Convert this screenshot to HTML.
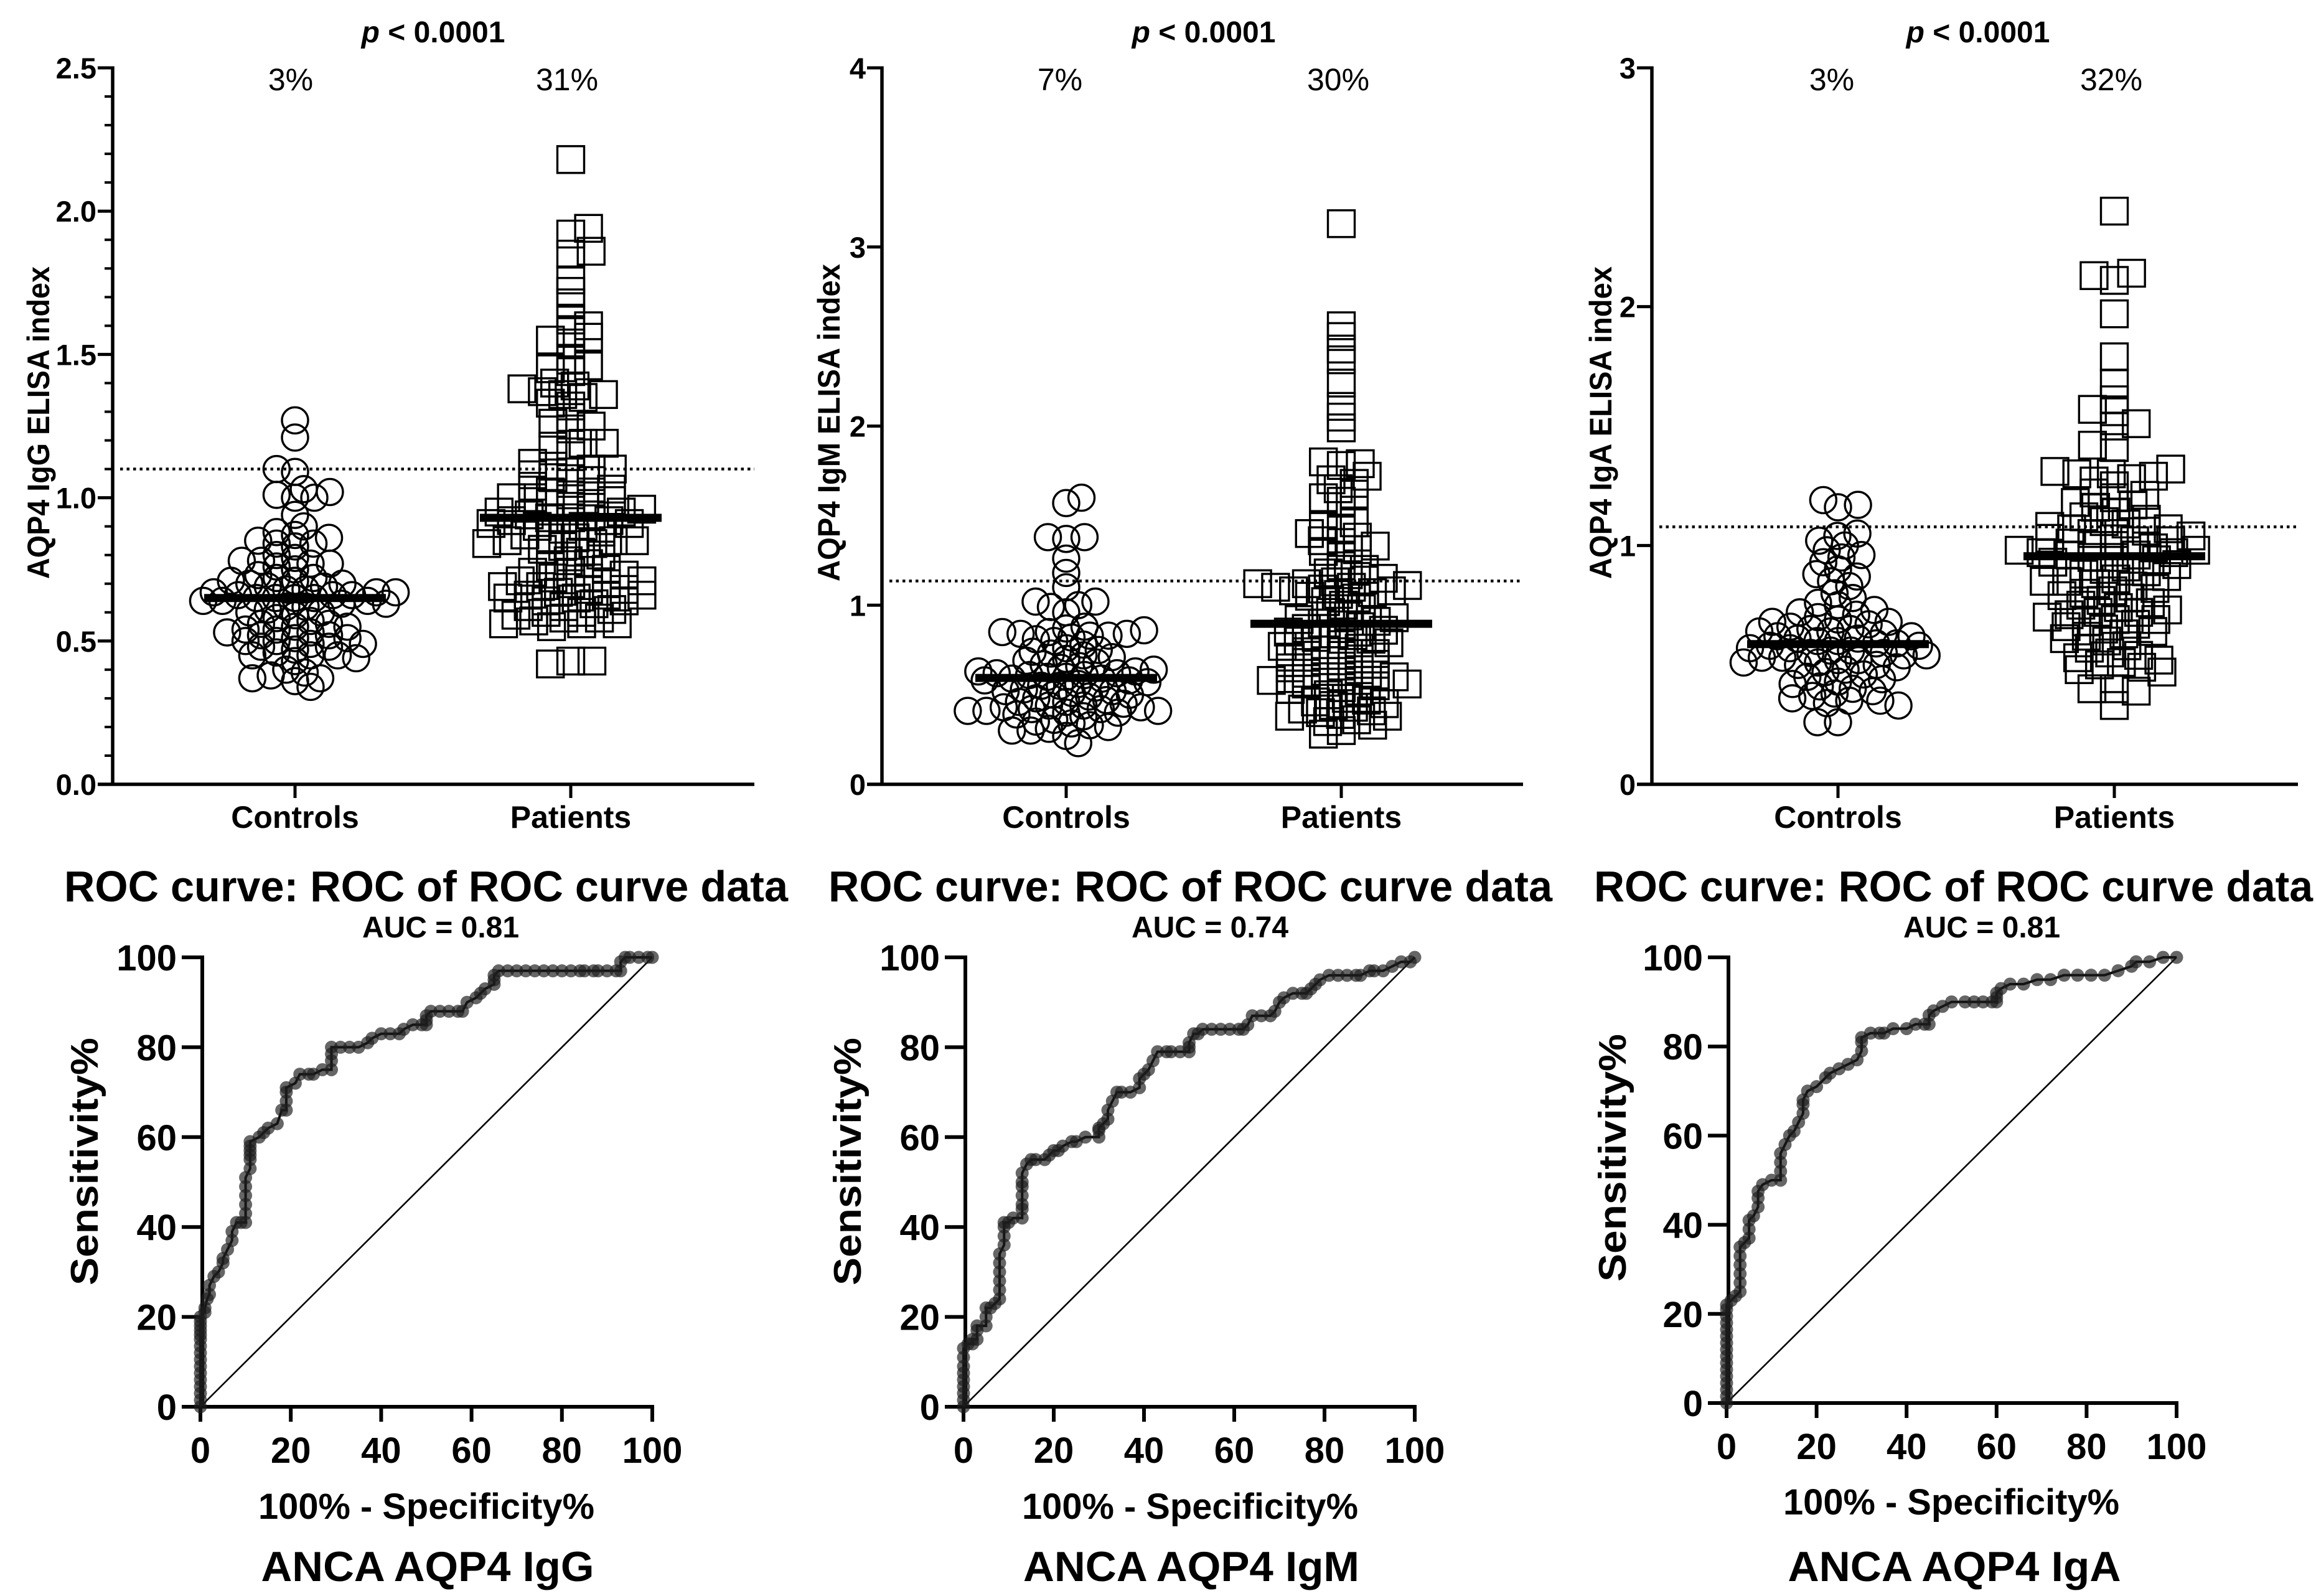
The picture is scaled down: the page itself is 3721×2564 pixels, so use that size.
<!DOCTYPE html>
<html lang="en">
<head>
<meta charset="utf-8">
<title>AQP4 ELISA index and ROC curves</title>
<style>
html,body{margin:0;padding:0;background:#fff;width:3721px;height:2564px;overflow:hidden}
svg{display:block}
text{font-family:"Liberation Sans",sans-serif;fill:#000}
.b{font-weight:bold}
</style>
</head>
<body>
<svg id="chart" xmlns="http://www.w3.org/2000/svg" width="3721" height="2564" viewBox="0 0 3721 2564">
  <rect x="0" y="0" width="3721" height="2564" fill="#fff"/>

  <text class="b" x="696" y="68" font-size="48" text-anchor="middle"><tspan font-style="italic">p</tspan> &lt; 0.0001</text>
  <text class="b" x="1934" y="68" font-size="48" text-anchor="middle"><tspan font-style="italic">p</tspan> &lt; 0.0001</text>
  <text class="b" x="3178" y="68" font-size="48" text-anchor="middle"><tspan font-style="italic">p</tspan> &lt; 0.0001</text>

  <text x="467" y="145" font-size="50" text-anchor="middle">3%</text>
  <text x="911" y="145" font-size="50" text-anchor="middle">31%</text>
  <text x="1703" y="145" font-size="50" text-anchor="middle">7%</text>
  <text x="2150" y="145" font-size="50" text-anchor="middle">30%</text>
  <text x="2943" y="145" font-size="50" text-anchor="middle">3%</text>
  <text x="3392" y="145" font-size="50" text-anchor="middle">32%</text>

  <text class="b" transform="translate(79,679) rotate(-90)" font-size="50" text-anchor="middle" textLength="502" lengthAdjust="spacingAndGlyphs">AQP4 IgG ELISA index</text>
  <text class="b" transform="translate(1349,679) rotate(-90)" font-size="50" text-anchor="middle" textLength="510" lengthAdjust="spacingAndGlyphs">AQP4 IgM ELISA index</text>
  <text class="b" transform="translate(2589,679) rotate(-90)" font-size="50" text-anchor="middle" textLength="502" lengthAdjust="spacingAndGlyphs">AQP4 IgA ELISA index</text>

  <text class="b" x="103" y="1448" font-size="70" textLength="1163" lengthAdjust="spacingAndGlyphs">ROC curve: ROC of ROC curve data</text>
  <text class="b" x="1331" y="1448" font-size="70" textLength="1163" lengthAdjust="spacingAndGlyphs">ROC curve: ROC of ROC curve data</text>
  <text class="b" x="2561" y="1448" font-size="70" textLength="1155" lengthAdjust="spacingAndGlyphs">ROC curve: ROC of ROC curve data</text>

  <text class="b" x="708" y="1506" font-size="48" text-anchor="middle">AUC = 0.81</text>
  <text class="b" x="1944" y="1506" font-size="48" text-anchor="middle">AUC = 0.74</text>
  <text class="b" x="3184" y="1506" font-size="48" text-anchor="middle">AUC = 0.81</text>

  <text class="b" transform="translate(157,1866) rotate(-90)" font-size="62" text-anchor="middle" textLength="398" lengthAdjust="spacingAndGlyphs">Sensitivity%</text>
  <text class="b" transform="translate(1383,1866) rotate(-90)" font-size="62" text-anchor="middle" textLength="398" lengthAdjust="spacingAndGlyphs">Sensitivity%</text>
  <text class="b" transform="translate(2612,1860) rotate(-90)" font-size="62" text-anchor="middle" textLength="398" lengthAdjust="spacingAndGlyphs">Sensitivity%</text>

  <text class="b" x="685" y="2440" font-size="58" text-anchor="middle" textLength="540" lengthAdjust="spacingAndGlyphs">100% - Specificity%</text>
  <text class="b" x="1912" y="2440" font-size="58" text-anchor="middle" textLength="540" lengthAdjust="spacingAndGlyphs">100% - Specificity%</text>
  <text class="b" x="3135" y="2433" font-size="58" text-anchor="middle" textLength="540" lengthAdjust="spacingAndGlyphs">100% - Specificity%</text>

  <text class="b" x="687" y="2540" font-size="68" text-anchor="middle" textLength="535" lengthAdjust="spacingAndGlyphs">ANCA AQP4 IgG</text>
  <text class="b" x="1914" y="2540" font-size="68" text-anchor="middle" textLength="540" lengthAdjust="spacingAndGlyphs">ANCA AQP4 IgM</text>
  <text class="b" x="3140" y="2540" font-size="68" text-anchor="middle" textLength="535" lengthAdjust="spacingAndGlyphs">ANCA AQP4 IgA</text>

  <g id="plots"></g>
</svg>
<script>
// ---------- Data ----------
const groupLabels = ['Controls', 'Patients'];

const controlsIgG = [1.27,1.21,1.10,1.09,1.03,1.02,1.01,1.00,1.00,0.94,0.90,0.88,0.87,0.86,0.85,0.84,0.84,0.83,0.80,0.79,0.78,0.78,0.77,0.77,0.76,0.75,0.73,0.72,0.72,0.71,0.71,0.70,0.70,0.69,0.69,0.68,0.68,0.67,0.67,0.67,0.66,0.66,0.66,0.65,0.65,0.65,0.65,0.64,0.64,0.64,0.63,0.63,0.62,0.62,0.61,0.60,0.60,0.59,0.58,0.57,0.56,0.56,0.55,0.55,0.54,0.54,0.53,0.53,0.52,0.52,0.51,0.51,0.50,0.50,0.49,0.49,0.48,0.48,0.47,0.46,0.45,0.45,0.45,0.44,0.43,0.40,0.39,0.38,0.37,0.37,0.36,0.34];
const patientsIgG = [2.18,1.94,1.92,1.86,1.85,1.76,1.72,1.68,1.62,1.60,1.58,1.56,1.55,1.54,1.48,1.46,1.45,1.44,1.40,1.39,1.38,1.37,1.36,1.36,1.35,1.33,1.32,1.28,1.26,1.25,1.24,1.19,1.19,1.18,1.16,1.12,1.11,1.10,1.10,1.09,1.08,1.07,1.06,1.05,1.04,1.03,1.02,1.02,1.01,1.00,1.00,0.99,0.98,0.98,0.97,0.96,0.95,0.95,0.94,0.94,0.93,0.93,0.92,0.92,0.91,0.91,0.90,0.90,0.89,0.88,0.87,0.86,0.86,0.85,0.85,0.85,0.84,0.84,0.83,0.82,0.81,0.80,0.78,0.77,0.76,0.75,0.74,0.74,0.73,0.72,0.72,0.71,0.71,0.70,0.70,0.69,0.69,0.68,0.68,0.67,0.66,0.66,0.66,0.65,0.65,0.64,0.64,0.63,0.62,0.62,0.61,0.60,0.60,0.59,0.58,0.58,0.57,0.56,0.56,0.56,0.55,0.43,0.43,0.42];
const controlsIgM = [1.60,1.57,1.38,1.38,1.37,1.26,1.18,1.10,1.02,1.02,1.00,0.99,0.96,0.88,0.87,0.86,0.85,0.85,0.84,0.84,0.83,0.83,0.82,0.81,0.80,0.78,0.76,0.75,0.74,0.73,0.72,0.71,0.70,0.69,0.68,0.67,0.66,0.65,0.64,0.63,0.63,0.62,0.62,0.61,0.61,0.60,0.60,0.59,0.59,0.58,0.58,0.57,0.56,0.55,0.55,0.54,0.53,0.52,0.52,0.51,0.50,0.50,0.49,0.48,0.47,0.46,0.46,0.45,0.44,0.44,0.43,0.43,0.42,0.42,0.41,0.41,0.41,0.40,0.40,0.39,0.38,0.36,0.35,0.34,0.33,0.32,0.31,0.30,0.30,0.27,0.23];
const patientsIgM = [3.13,2.56,2.50,2.43,2.37,2.24,2.11,2.05,1.99,1.80,1.79,1.78,1.72,1.70,1.68,1.65,1.62,1.60,1.58,1.46,1.44,1.42,1.40,1.38,1.36,1.35,1.33,1.31,1.30,1.28,1.22,1.20,1.18,1.17,1.15,1.14,1.13,1.12,1.12,1.11,1.10,1.10,1.09,1.08,1.08,1.07,1.06,1.05,1.04,1.02,1.00,0.98,0.96,0.94,0.93,0.92,0.91,0.90,0.89,0.88,0.87,0.86,0.85,0.84,0.83,0.82,0.81,0.80,0.79,0.78,0.77,0.76,0.75,0.74,0.73,0.72,0.71,0.70,0.69,0.68,0.67,0.66,0.65,0.64,0.63,0.62,0.61,0.60,0.60,0.59,0.58,0.58,0.57,0.56,0.56,0.55,0.54,0.53,0.52,0.50,0.48,0.47,0.46,0.45,0.44,0.43,0.42,0.41,0.40,0.39,0.38,0.38,0.36,0.35,0.33,0.30,0.28];
const controlsIgA = [1.19,1.17,1.16,1.05,1.04,1.02,1.00,0.98,0.96,0.95,0.93,0.90,0.88,0.87,0.85,0.83,0.80,0.78,0.76,0.75,0.73,0.72,0.71,0.70,0.69,0.68,0.68,0.67,0.66,0.65,0.65,0.64,0.64,0.63,0.62,0.62,0.61,0.61,0.60,0.60,0.59,0.59,0.58,0.58,0.57,0.57,0.56,0.56,0.55,0.55,0.54,0.54,0.53,0.53,0.52,0.52,0.51,0.51,0.50,0.50,0.49,0.48,0.47,0.46,0.45,0.44,0.43,0.42,0.41,0.40,0.39,0.38,0.37,0.36,0.35,0.35,0.34,0.33,0.26,0.26];
const patientsIgA = [2.40,2.14,2.13,2.11,1.97,1.79,1.68,1.61,1.57,1.56,1.51,1.50,1.42,1.41,1.32,1.31,1.30,1.30,1.29,1.28,1.27,1.25,1.22,1.21,1.20,1.18,1.17,1.16,1.14,1.12,1.11,1.10,1.09,1.08,1.07,1.07,1.06,1.05,1.05,1.04,1.03,1.02,1.02,1.01,1.00,1.00,0.99,0.98,0.98,0.97,0.97,0.96,0.96,0.95,0.95,0.94,0.93,0.92,0.91,0.90,0.89,0.88,0.87,0.86,0.85,0.85,0.84,0.83,0.82,0.81,0.80,0.79,0.78,0.77,0.76,0.75,0.74,0.73,0.72,0.72,0.71,0.70,0.69,0.69,0.68,0.67,0.66,0.65,0.64,0.63,0.62,0.61,0.60,0.58,0.57,0.55,0.54,0.53,0.52,0.51,0.50,0.49,0.48,0.47,0.40,0.40,0.39,0.33];

const medianIgG = [0.65, 0.93];
const medianIgM = [0.594, 0.896];
const medianIgA = [0.587, 0.955];
const cutoffIgG = 1.10;
const cutoffIgM = 1.135;
const cutoffIgA = 1.078;

const ticksIgG = ['0.0', '0.5', '1.0', '1.5', '2.0', '2.5'];
const ticksIgM = ['0', '1', '2', '3', '4'];
const ticksIgA = ['0', '1', '2', '3'];
const rocTicks = [0, 20, 40, 60, 80, 100];

const rocFprIgG = [0,0,0,0,0,0,0,0,0,0,0,0,0,0,0,0,1,1,1.5,2,2,3,4,5,5,6,7,7,8,9,10,10,10,10,10,10,11,11,11,11,11,11,13,14,15,17,18,19,19,19,19,21,22,24,25,27,29,29,29,29,31,33,35,37,38,40,42,44,45,47,49,50,50,50,51,53,55,57,58,59,61,62,63,65,65,65,66,68,70,72,74,76,78,80,82,84,85,87,88,90,92,93,93,94,95,97,99,100];
const rocTprIgG = [0,1.5,3,4.5,6,7.5,9,10.5,12,13.5,15,16,17,18,19,20,21,22,24,25,27,29,30,32,33,35,37,39,41,41,41,43,45,47,49,51,53,55,56,57,58,59,60,61,62,63,66,66,68,70,71,72,74,74,74,75,75,77,78.5,80,80,80,80,81,82,83,83,83,84,85,85,85,86,87,88,88,88,88,88,90,91,92,93,94,95,96,97,97,97,97,97,97,97,97,97,97,97,97,97,97,97,97,99,100,100,100,100,100];

const rocFprIgM = [0,0,0,0,0,0,0,0,0,1,2,2,3,3,3,5,5,5,6,7,8,8,8,8,8,8,9,9,9,9,10,11,13,13,13,13,13,13,13,14,15,16,18,19,20,21,22,24,25,27,30,30,30,31,32,32,33,34,35,37,39,39,40,41,42,43,45,46,48,50,50,50,51,52,53,55,57,59,61,62,63,64,66,68,69,70,71,73,75,76,77,78,79,81,83,85,87,88,90,91,93,95,97,99,100];
const rocTprIgM = [0,1.5,3,4.5,6,7.5,9,11,13,14,14,15,15,17,18,18,20,22,22,23,24,26,28,30,32,34,36,38,40,41,41,42,42,44,45,47,49,50,52,54,55,55,55,56,57,57,58,59,59,60,60,61.5,62,63,64,66,68,70,70,70,71,73,74,75,77,79,79,79,79,79,80,81,83,83,84,84,84,84,84,84,85,87,87,87,88,90,91,92,92,92,93,94,95,96,96,96,96,96,97,97,97,98,99,99,100];

const rocFprIgA = [0,0,0,0,0,0,0,0,0,0,0,0,0,0,0,0,1,2,3,3,3,3,3,3,4,5,5,5,6,7,7,7,8,10,12,12,12,12,13,14,15,16,17,17,17,18,20,22,23,25,27,29,30,30,30,32,34,35,37,40,42,44,45,45,46,48,50,53,55,57,59,60,60,60,61,63,66,69,72,75,78,81,84,87,90,91,94,97,100];
const rocTprIgA = [0,1.5,3,4.5,6,7.5,9,10.5,12,13.5,15,16.5,18,19.5,21,22,23,24,25,27,29,31,33,35,36,37,39,41,42,44,46,47.5,49,50,50,52,54,56,58,60,61,63,65,67,68,70,71,73,74,75,76,77,79,81,82,83,83,83,84,84,85,85,85,87,88,89,90,90,90,90,90,90,91,92,93,94,94,95,95,96,96,96,96,97,98,99,99,100,100];

// ---------- Helpers ----------
const NS = 'http://www.w3.org/2000/svg';
const root = document.getElementById('plots');

function make(tag, attrs, parent) {
  const node = document.createElementNS(NS, tag);
  for (const k in attrs) node.setAttribute(k, attrs[k]);
  parent.appendChild(node);
  return node;
}

function scaleLinear(d0, d1, r0, r1) {
  return function (v) { return r0 + (v - d0) * (r1 - r0) / (d1 - d0); };
}

// Greedy beeswarm: offsets derive only from values and the y scale. Vertical
// distance counts double, so neighbours stack more tightly than they sit side by side.
function swarm(values, yScale, minDist) {
  const K = 2;
  const sorted = values.slice().sort(function (a, b) { return a - b; });
  const med = sorted[Math.floor(sorted.length / 2)];
  const order = values.map(function (v, i) { return i; }).sort(function (a, b) {
    return Math.abs(values[a] - med) - Math.abs(values[b] - med);
  });
  const placed = [];
  const out = new Array(values.length);
  order.forEach(function (idx, n) {
    const y = yScale(values[idx]);
    const cands = [0];
    placed.forEach(function (p) {
      const dy = Math.abs(p.y - y) * K;
      if (dy < minDist) {
        const w = Math.sqrt(minDist * minDist - dy * dy) + 0.01;
        cands.push(p.x + w, p.x - w);
      }
    });
    const valid = cands.filter(function (c) {
      return placed.every(function (p) {
        const dx = p.x - c, dy = (p.y - y) * K;
        return dx * dx + dy * dy >= minDist * minDist - 0.001;
      });
    });
    const pref = n % 2 === 0 ? 1 : -1;
    valid.sort(function (a, b) {
      return (Math.abs(a) - Math.abs(b)) || (b - a) * pref;
    });
    const x = valid[0];
    placed.push({ x: x, y: y });
    out[idx] = x;
  });
  return out;
}

function drawScatter(cfg) {
  const g = make('g', {}, root);
  
  
  const y = scaleLinear(cfg.yMin, cfg.yMax, cfg.y0, cfg.y1);

  const yAxis = make('line', { x1: cfg.x0, x2: cfg.x0, y1: cfg.y1 - 2.5, y2: cfg.y0 + 2.5, stroke: '#000', 'stroke-width': 5.5 }, g);
  
  
  const xAxis = make('line', { x1: cfg.x0 - 24, x2: cfg.x1, y1: cfg.y0, y2: cfg.y0, stroke: '#000', 'stroke-width': 5.5 }, g);
  
  

  cfg.ticks.forEach(function (label) {
    const v = parseFloat(label);
    const mark = make('line', { x1: cfg.x0 - 24, x2: cfg.x0, y1: y(v), y2: y(v), stroke: '#000', 'stroke-width': 5 }, g);
    
    
    const t = make('text', { x: cfg.x0 - 26, y: y(v) + 17, 'font-size': 47, 'font-weight': 'bold', 'text-anchor': 'end' }, g);
    t.textContent = label;
    
    
  });

  if (cfg.minorStep) {
    for (let m = 1; m * cfg.minorStep < cfg.yMax; m++) {
      const mv = m * cfg.minorStep;
      const minor = make('line', { x1: cfg.x0 - 13, x2: cfg.x0, y1: y(mv), y2: y(mv), stroke: '#000', 'stroke-width': 4 }, g);
      
      
    }
  }

  const centers = [cfg.cxControls, cfg.cxPatients];
  groupLabels.forEach(function (label, i) {
    const mark = make('line', { x1: centers[i], x2: centers[i], y1: cfg.y0, y2: cfg.y0 + 22, stroke: '#000', 'stroke-width': 5 }, g);
    
    
    const t = make('text', { x: centers[i], y: cfg.y0 + 70, 'font-size': 50, 'font-weight': 'bold', 'text-anchor': 'middle' }, g);
    t.textContent = label;
    
    
  });

  const cutoff = make('line', { x1: cfg.x0 + 12, x2: cfg.x1, y1: y(cfg.cutoff), y2: y(cfg.cutoff), stroke: '#000', 'stroke-width': 4.5, 'stroke-dasharray': '4.5 6' }, g);
  
  

  const ctrlOff = swarm(cfg.controls, y, cfg.distControls);
  cfg.controls.forEach(function (v, i) {
    const c = make('circle', { cx: cfg.cxControls + ctrlOff[i], cy: y(v), r: 21, fill: 'none', stroke: '#000', 'stroke-width': 3.4 }, g);
    
    
  });

  const patOff = swarm(cfg.patients, y, cfg.distPatients);
  cfg.patients.forEach(function (v, i) {
    const s = make('rect', { x: cfg.cxPatients + patOff[i] - 21.5, y: y(v) - 21.5, width: 43, height: 43, fill: 'none', stroke: '#000', 'stroke-width': 3.4 }, g);
    
    
  });

  cfg.medians.forEach(function (v, i) {
    const m = make('line', { x1: centers[i] - 146, x2: centers[i] + 146, y1: y(v), y2: y(v), stroke: '#000', 'stroke-width': 13 }, g);
    
    
  });
}

function drawRoc(cfg) {
  const g = make('g', {}, root);
  
  
  const x = scaleLinear(0, 100, cfg.x0, cfg.x1);
  const y = scaleLinear(0, 100, cfg.y0, cfg.y1);

  const diag = make('line', { x1: x(0), y1: y(0), x2: x(100), y2: y(100), stroke: '#000', 'stroke-width': 2.6 }, g);
  
  

  const yAxis = make('line', { x1: cfg.x0 + 3, x2: cfg.x0 + 3, y1: cfg.y1 - 3, y2: cfg.y0 + 3, stroke: '#000', 'stroke-width': 6 }, g);
  
  
  const xAxis = make('line', { x1: cfg.x0 - 30, x2: cfg.x1 + 3, y1: cfg.y0, y2: cfg.y0, stroke: '#000', 'stroke-width': 6 }, g);
  
  

  rocTicks.forEach(function (v) {
    const ym = make('line', { x1: cfg.x0 - 30, x2: cfg.x0, y1: y(v), y2: y(v), stroke: '#000', 'stroke-width': 6 }, g);
    
    
    const yt = make('text', { x: cfg.x0 - 38, y: y(v) + 21, 'font-size': 58, 'font-weight': 'bold', 'text-anchor': 'end' }, g);
    yt.textContent = String(v);
    
    
    const xm = make('line', { x1: x(v), x2: x(v), y1: cfg.y0, y2: cfg.y0 + 24, stroke: '#000', 'stroke-width': 6 }, g);
    
    
    const xt = make('text', { x: x(v), y: cfg.y0 + 90, 'font-size': 58, 'font-weight': 'bold', 'text-anchor': 'middle' }, g);
    xt.textContent = String(v);
    
    
  });

  const pts = cfg.fpr.map(function (f, i) { return x(f) + ',' + y(cfg.tpr[i]); }).join(' ');
  const curve = make('polyline', { points: pts, fill: 'none', stroke: '#000', 'stroke-width': 4 }, g);
  
  

  cfg.fpr.forEach(function (f, i) {
    const p = make('circle', { cx: x(f), cy: y(cfg.tpr[i]), r: 10.5, fill: 'rgba(30,30,30,0.68)', stroke: 'none' }, g);
    
    
  });
}

// ---------- Draw ----------
drawScatter({ name: 'scatter-igg', x0: 181, x1: 1212, y0: 1260, y1: 109, yMin: 0, yMax: 2.5, minorStep: 0.1, ticks: ticksIgG, cxControls: 474, cxPatients: 917, controls: controlsIgG, patients: patientsIgG, medians: medianIgG, cutoff: cutoffIgG, distControls: 31, distPatients: 34 });
drawScatter({ name: 'scatter-igm', x0: 1417, x1: 2447, y0: 1260, y1: 109, yMin: 0, yMax: 4, minorStep: 0, ticks: ticksIgM, cxControls: 1713, cxPatients: 2155, controls: controlsIgM, patients: patientsIgM, medians: medianIgM, cutoff: cutoffIgM, distControls: 30, distPatients: 31 });
drawScatter({ name: 'scatter-iga', x0: 2654, x1: 3692, y0: 1260, y1: 109, yMin: 0, yMax: 3, minorStep: 0, ticks: ticksIgA, cxControls: 2953, cxPatients: 3397, controls: controlsIgA, patients: patientsIgA, medians: medianIgA, cutoff: cutoffIgA, distControls: 33, distPatients: 36 });

drawRoc({ name: 'roc-igg', x0: 322, x1: 1048, y0: 2260, y1: 1538, fpr: rocFprIgG, tpr: rocTprIgG });
drawRoc({ name: 'roc-igm', x0: 1548, x1: 2273, y0: 2260, y1: 1538, fpr: rocFprIgM, tpr: rocTprIgM });
drawRoc({ name: 'roc-iga', x0: 2774, x1: 3497, y0: 2254, y1: 1538, fpr: rocFprIgA, tpr: rocTprIgA });
</script>
</body>
</html>
